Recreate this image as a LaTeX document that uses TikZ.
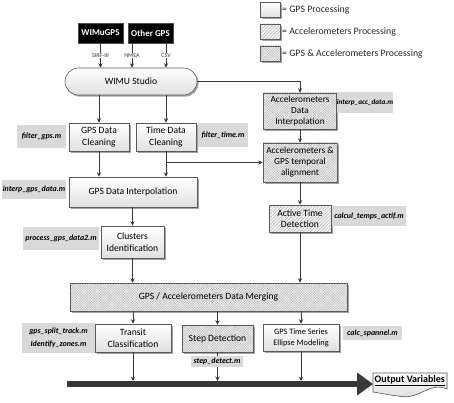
\documentclass[tikz,border=0pt]{standalone}
\usepackage{fontspec}
\setmainfont{Carlito}
\usetikzlibrary{arrows.meta,shadows,patterns.meta}
\definecolor{edgecol}{HTML}{5A5A5A}
\definecolor{lbl}{HTML}{D9D9D9}
\begin{document}
\begin{tikzpicture}[x=1pt,y=-1pt,
  boxbase/.style={draw=edgecol,line width=0.6pt,inner sep=1pt,align=center,
    font=\fontsize{9.6}{11.5}\selectfont,
    drop shadow={shadow xshift=1.6pt,shadow yshift=-1.6pt,fill=black!45,opacity=0.8}},
  gpsbox/.style={boxbase,top color=white,bottom color=black!12},
  accbox/.style={boxbase,preaction={fill=black!5},pattern={Lines[angle=45,distance=2.4pt,line width=0.35pt]},pattern color=black!35},
  mixbox/.style={boxbase,preaction={fill=black!4},pattern={Hatch[angle=45,distance=1.8pt,line width=0.3pt]},pattern color=black!28},
  srcbox/.style={fill=black,text=white,inner sep=0pt,font=\bfseries\fontsize{9}{10}\selectfont,
    minimum width=45,minimum height=20,draw=black!70,line width=0.6pt},
  mlabel/.style={fill=lbl,inner sep=0pt,align=center,font=\bfseries\itshape\fontsize{7.9}{9}\selectfont},
  wire/.style={draw=black!78,line width=0.8pt},
  arrow/.style={wire,-{Stealth[length=4.5pt,width=4.2pt]}},
  fmt/.style={fill=white,inner sep=0.6pt,font=\fontsize{6}{6}\selectfont,text=black!80},
  legtext/.style={anchor=west,inner sep=0pt,font=\fontsize{9.8}{11}\selectfont,text=black!85}]
\useasboundingbox (0,0) rectangle (454,403);

% legend
\node[gpsbox,minimum width=20,minimum height=15] (leg1) at (270,9.5) {};
\node[accbox,minimum width=20,minimum height=15] (leg2) at (270,31.5) {};
\node[mixbox,minimum width=20,minimum height=15] (leg3) at (270,53.5) {};
\node[legtext] (leg1t) at (282,9.5) {= GPS Processing};
\node[legtext] (leg2t) at (282,31.5) {= Accelerometers Processing};
\node[legtext] (leg3t) at (282,53.5) {= GPS \& Accelerometers Processing};

% sources
\node[srcbox] (wimugps) at (100.5,33) {WIMuGPS};
\node[srcbox] (othergps) at (150.5,33) {Other GPS};
\node[gpsbox,minimum width=132,minimum height=27,rounded corners=13.5pt] (studio) at (131,81.5) {WIMU Studio};

% GPS column
\node[gpsbox,minimum width=60,minimum height=28] (gpsclean) at (99,137) {GPS Data\\Cleaning};
\node[gpsbox,minimum width=60,minimum height=28] (timeclean) at (166,137) {Time Data\\Cleaning};
\node[gpsbox,minimum width=128,minimum height=30] (gpsinterp) at (133,192) {GPS Data Interpolation};
\node[gpsbox,minimum width=63,minimum height=32] (clusters) at (132.5,242) {Clusters\\Identification};

% accelerometer column
\node[mixbox,minimum width=73,minimum height=36,font=\fontsize{9.3}{11}\selectfont] (accinterp) at (300,111) {Accelerometers\\Data\\Interpolation};
\node[mixbox,minimum width=74,minimum height=39,font=\fontsize{9.3}{11}\selectfont] (align) at (300,162.5) {Accelerometers \&\\GPS temporal\\alignment};
\node[accbox,minimum width=62,minimum height=27] (active) at (300,218.5) {Active Time\\Detection};

% merging and outputs
\node[mixbox,minimum width=277,minimum height=28] (merge) at (208.5,297) {GPS / Accelerometers Data Merging};
\node[gpsbox,minimum width=76,minimum height=28] (transit) at (133,338) {Transit\\Classification};
\node[mixbox,minimum width=71,minimum height=27] (step) at (217.5,338.5) {Step Detection};
\node[gpsbox,minimum width=76,minimum height=27,font=\fontsize{8.3}{11}\selectfont] (ellipse) at (301,337.5) {GPS Time Series\\Ellipse Modeling};

% script labels
\node[mlabel,minimum width=49,minimum height=23] (lfiltergps) at (41.5,136.5) {filter\_gps.m};
\node[mlabel,minimum width=50,minimum height=24] (lfiltertime) at (223,135) {filter\_time.m};
\node[mlabel,minimum width=64,minimum height=19] (linterpgps) at (34,189.5) {interp\_gps\_data.m};
\node[mlabel,minimum width=76,minimum height=23] (lprocess) at (61,238.5) {process\_gps\_data2.m};
\node[mlabel,minimum width=56,minimum height=21,font=\bfseries\itshape\fontsize{7.2}{9}\selectfont] (linterpacc) at (365,102.5) {interp\_acc\_data.m};
\node[mlabel,minimum width=74,minimum height=20] (lcalcul) at (369,216) {calcul\_temps\_actif.m};
\node[mlabel,minimum width=73,minimum height=30] (lsplit) at (58.5,338) {gps\_split\_track.m\\[3.5pt]Identify\_zones.m};
\node[mlabel,minimum width=59,minimum height=14] (lcalc) at (372.5,333) {calc\_spannel.m};

% connectors from sources
\draw[arrow] (wimugps.south) -- node[fmt]{SIRF-III} (wimugps.south |- studio.north);
\draw[arrow] ([xshift=-18.5pt]othergps.south) -- node[fmt]{NMEA} ([xshift=-18.5pt]othergps.south |- studio.north);
\draw[arrow] ([xshift=15.5pt]othergps.south) -- node[fmt]{CSV} ([xshift=15.5pt]othergps.south |- studio.north);

\draw[arrow] (studio.east) -| (accinterp.north);
\draw[arrow] (studio.south -| gpsclean.north) -- (gpsclean.north);
\draw[arrow] (studio.south -| timeclean.north) -- (timeclean.north);

\coordinate (tb) at (166,162.5);
\draw[arrow] (gpsclean.south) -- (gpsclean.south |- gpsinterp.north);
\draw[wire] (timeclean.south) -- (tb);
\draw[arrow] (tb) -- (tb |- gpsinterp.north);
\draw[arrow] (tb) -- (align.west);

\draw[arrow] (gpsinterp.south -| clusters.north) -- (clusters.north);
\draw[arrow] (clusters.south) -- (clusters.south |- merge.north);

\draw[arrow] (accinterp.south) -- (align.north);
\draw[arrow] (align.south) -- (active.north);
\draw[arrow] (active.south) -- (active.south |- merge.north);

\draw[arrow] (merge.south -| transit.north) -- (transit.north);
\draw[arrow] (merge.south -| step.north) -- (step.north);
\draw[arrow] (merge.south -| ellipse.north) -- (ellipse.north);

% output document
\coordinate (d1) at (373,373);
\coordinate (d2) at (447,373);
\coordinate (d3) at (447,389);
\coordinate (c1) at (429,381);
\coordinate (c2) at (419,401);
\coordinate (d4) at (398,396);
\coordinate (c3) at (389,395);
\coordinate (c4) at (380,393);
\coordinate (d5) at (373,392);
\begin{scope}[shift={(1.6pt,-1.6pt)}]
\fill[black!40] (d1) -- (d2) -- (d3) .. controls (c1) and (c2) .. (d4) .. controls (c3) and (c4) .. (d5) -- cycle;
\end{scope}
\shade[top color=white,bottom color=black!15] (d1) -- (d2) -- (d3) .. controls (c1) and (c2) .. (d4) .. controls (c3) and (c4) .. (d5) -- cycle;
\draw[draw=edgecol,line width=0.6pt] (d1) -- (d2) -- (d3) .. controls (c1) and (c2) .. (d4) .. controls (c3) and (c4) .. (d5) -- cycle;
\node[inner sep=0pt,font=\bfseries\fontsize{10}{11}\selectfont,anchor=north west] (output) at (374.5,375.5) {\underline{Output Variables}};

% bottom bar
\coordinate (barstart) at (67,384);
\coordinate (barend) at (373,384);
\draw[draw=black!78,line width=6pt,-{Triangle[length=16pt,width=22pt]}] (barstart) -- (barend);

\draw[arrow] (transit.south) -- (transit.south |- 0,381);
\draw[arrow] (step.south) -- (step.south |- 0,381);
\draw[arrow] (ellipse.south) -- (ellipse.south |- 0,381);
\node[mlabel,minimum width=52,minimum height=11] (lstep) at (217,361.5) {step\_detect.m};
\end{tikzpicture}
\end{document}
